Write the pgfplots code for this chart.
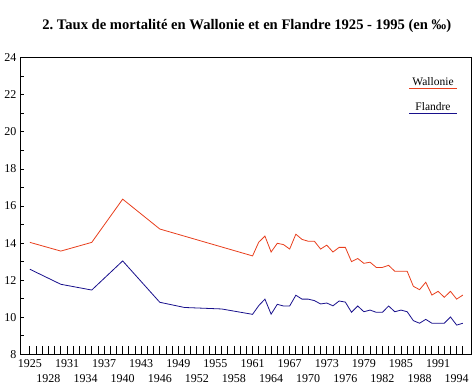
\documentclass[border=0pt]{standalone}
\usepackage{fontspec}
\setmainfont{Liberation Serif}
\usepackage{pgfplots}
\pgfplotsset{compat=1.18}
\definecolor{wal}{RGB}{232,62,28}
\definecolor{fla}{RGB}{24,16,140}
\begin{document}
\begin{tikzpicture}
\begin{axis}[
  name=ax,
  scale only axis,
  width=451.5pt, height=296.8pt,
  xmin=1923.4, xmax=1996.4,
  ymin=8, ymax=24,
  axis line style={line width=0.8pt},
  xtick={1925,1931,...,1991},
  extra x ticks={1928,1934,...,1994},
  extra x tick style={xticklabel style={yshift=-15pt}},
  minor xtick={1925,...,1995},
  ytick={8,10,...,24},
  minor ytick={9,11,...,23},
  xtick pos=bottom, ytick pos=left,
  tick align=inside,
  major tick length=8pt, minor tick length=8pt,
  ytick style={/pgfplots/major tick length=4pt,/pgfplots/minor tick length=4pt},
  tick style={black, line width=0.8pt},
  xticklabel style={/pgf/number format/1000 sep={}},
  /pgf/number format/assume math mode=true,
  tick label style={font=\fontsize{12}{14}\selectfont},
  xticklabel style={yshift=-2pt},
  yticklabel style={xshift=0pt},
]
\addplot[wal, line width=0.8pt] coordinates {
(1925,14.04) (1930,13.57) (1935,14.04) (1940,16.37) (1946,14.76)
(1961,13.31) (1962,14.05) (1963,14.38) (1964,13.52) (1965,13.99)
(1966,13.92) (1967,13.68) (1968,14.48) (1969,14.20) (1970,14.10)
(1971,14.10) (1972,13.68) (1973,13.89) (1974,13.52) (1975,13.77)
(1976,13.77) (1977,13.00) (1978,13.17) (1979,12.91) (1980,12.97)
(1981,12.69) (1982,12.69) (1983,12.80) (1984,12.48) (1985,12.48)
(1986,12.48) (1987,11.67) (1988,11.49) (1989,11.89) (1990,11.20)
(1991,11.40) (1992,11.08) (1993,11.40) (1994,10.98) (1995,11.20)
};
\addplot[fla, line width=0.8pt] coordinates {
(1925,12.59) (1930,11.78) (1935,11.47) (1940,13.04) (1946,10.81)
(1950,10.53) (1956,10.45) (1961,10.16) (1962,10.63) (1963,10.98)
(1964,10.17) (1965,10.70) (1966,10.61) (1967,10.61) (1968,11.19)
(1969,10.98) (1970,10.98) (1971,10.90) (1972,10.72) (1973,10.77)
(1974,10.62) (1975,10.88) (1976,10.82) (1977,10.27) (1978,10.61)
(1979,10.30) (1980,10.39) (1981,10.27) (1982,10.27) (1983,10.61)
(1984,10.30) (1985,10.39) (1986,10.30) (1987,9.82) (1988,9.68)
(1989,9.89) (1990,9.68) (1991,9.68) (1992,9.68) (1993,10.02)
(1994,9.58) (1995,9.68)
};
\end{axis}
\node[anchor=base, font=\bfseries\fontsize{14.6}{16}\selectfont] at ([xshift=1pt,yshift=28.5pt]ax.north) {2.\ Taux de mortalité en Wallonie et en Flandre 1925 - 1995 (en ‰)};
\node[anchor=base, font=\fontsize{11.5}{13}\selectfont] at ([xshift=413pt,yshift=-27.4pt]ax.north west) {Wallonie};
\draw[wal, line width=0.8pt] ([xshift=389pt,yshift=-30.7pt]ax.north west) -- ++(48pt,0);
\node[anchor=base, font=\fontsize{11.5}{13}\selectfont] at ([xshift=413pt,yshift=-52.4pt]ax.north west) {Flandre};
\draw[fla, line width=0.8pt] ([xshift=389pt,yshift=-55.7pt]ax.north west) -- ++(48pt,0);
\pgfresetboundingbox
\path ([xshift=-20pt,yshift=-31.6pt]ax.south west) rectangle ([xshift=1.5pt,yshift=57.6pt]ax.north east);
\end{tikzpicture}
\end{document}
